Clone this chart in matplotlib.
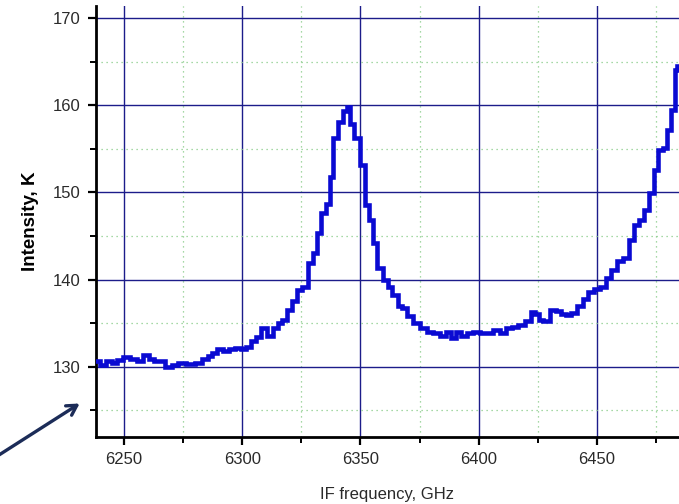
import matplotlib
matplotlib.use("Agg")
import matplotlib.pyplot as plt
from matplotlib.ticker import MultipleLocator

plt.rcParams['font.family'] = ['Liberation Sans', 'DejaVu Sans']

# IF spectrum: frequency (GHz) and intensity (K)
freq = [6238.4, 6241.3, 6243.4, 6246.2, 6248.3, 6251.1, 6253.9, 6256.8, 6259.6,
        6261.7, 6263.8, 6265.9, 6268.7, 6271.6, 6274.4, 6277.9, 6282.1, 6284.3,
        6286.4, 6288.5, 6290.6, 6293.4, 6295.6, 6298.3, 6300.5, 6302.6, 6304.7,
        6306.8, 6308.9, 6311.8, 6313.9, 6316.0, 6318.1, 6320.2, 6322.3, 6324.4,
        6326.6, 6328.7, 6330.8, 6332.2, 6334.3, 6336.4, 6337.6, 6339.3, 6341.4,
        6343.5, 6344.9, 6346.3, 6348.4, 6351.2, 6352.6, 6354.8, 6356.1, 6358.3,
        6360.4, 6362.5, 6364.6, 6366.8, 6368.2, 6371.0, 6373.8, 6376.6, 6379.4,
        6382.3, 6385.1, 6387.2, 6389.3, 6391.4, 6393.5, 6396.4, 6399.2, 6402.0,
        6404.8, 6407.6, 6410.5, 6412.6, 6415.4, 6418.2, 6421.0, 6423.1, 6424.6,
        6426.0, 6428.8, 6431.6, 6433.8, 6435.9, 6438.0, 6440.1, 6442.9, 6445.0,
        6447.1, 6450.0, 6452.7, 6454.9, 6457.0, 6459.8, 6462.6, 6464.1, 6466.9,
        6469.0, 6471.1, 6473.2, 6475.3, 6476.7, 6478.8, 6480.2, 6482.4, 6483.5,
        6484.5]
intensity = [130.6, 130.2, 130.6, 130.4, 130.8, 131.1, 130.9, 130.6, 131.3,
             130.9, 130.7, 130.6, 130.0, 130.2, 130.4, 130.3, 130.4, 130.9,
             131.2, 131.6, 132.0, 131.8, 132.0, 132.1, 132.0, 132.3, 132.9,
             133.4, 134.4, 133.5, 134.4, 135.0, 135.4, 136.5, 137.5, 138.8,
             139.2, 141.9, 143.0, 145.3, 147.6, 148.7, 151.8, 156.2, 158.1,
             159.4, 159.8, 157.9, 156.2, 153.1, 148.6, 146.8, 144.2, 141.3,
             140.0, 139.2, 138.2, 137.0, 136.7, 135.8, 135.0, 134.4, 134.0,
             133.9, 133.5, 134.0, 133.3, 134.0, 133.5, 133.9, 134.0, 133.9,
             133.9, 134.2, 133.9, 134.4, 134.6, 134.8, 135.2, 136.3, 136.0,
             135.4, 135.2, 136.5, 136.4, 136.0, 135.9, 136.2, 137.0, 137.8,
             138.6, 138.9, 139.1, 140.2, 141.1, 142.1, 142.5, 144.5, 146.3,
             146.8, 148.0, 149.9, 152.6, 154.9, 155.1, 157.2, 159.5, 164.1,
             164.5]

x_ticks = [6250, 6300, 6350, 6400, 6450]
y_ticks = [130, 140, 150, 160, 170]

fig = plt.figure(figsize=(6.79, 5.04), dpi=100)
ax = fig.add_axes([96 / 679, 67 / 504, 583 / 679, 431 / 504])

ax.plot(freq, intensity, drawstyle='steps-mid', color='#0a0ad2', lw=3.3,
        solid_joinstyle='miter', zorder=3)

ax.set_xlim(6238.2, 6484.7)
ax.set_ylim(121.93, 171.41)
ax.set_xticks(x_ticks)
ax.set_yticks(y_ticks)
ax.xaxis.set_minor_locator(MultipleLocator(25))
ax.yaxis.set_minor_locator(MultipleLocator(5))

ax.grid(which='major', color='#1c1c8a', lw=1.0, ls='-', zorder=1)
ax.grid(which='minor', color='#88cc88', lw=0.9, ls=(0, (1, 3)), zorder=1)

for side in ('top', 'right'):
    ax.spines[side].set_visible(False)
for side in ('left', 'bottom'):
    ax.spines[side].set_linewidth(2.0)
    ax.spines[side].set_color('black')

ax.tick_params(which='major', direction='out', length=6, width=1.6,
               labelsize=12, labelcolor='#2a2a2a', pad=5)
ax.tick_params(which='minor', direction='out', length=4, width=1.4)

ax.set_xlabel('IF frequency, GHz', fontsize=12, color='#2a2a2a', labelpad=14)
ax.set_ylabel('Intensity, K', fontsize=13.5, fontweight='bold', labelpad=10)

ax.annotate('', xy=(82, 102), xycoords='figure pixels',
            xytext=(-12, 42), textcoords='figure pixels',
            arrowprops=dict(arrowstyle='->,head_length=0.7,head_width=0.4',
                            color='#1c2c58', lw=2.4))

fig.savefig('out.png', dpi=100)
